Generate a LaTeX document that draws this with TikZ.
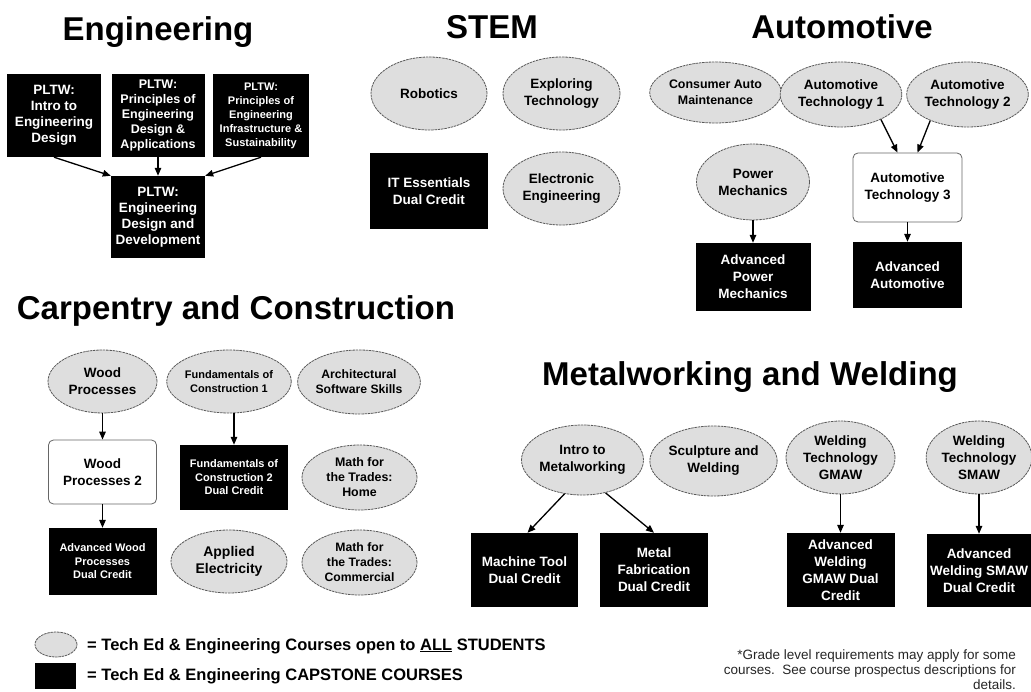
\documentclass[tikz,border=0pt]{standalone}
\usepackage{fontspec}
\setmainfont{Liberation Sans}
\usetikzlibrary{shapes.geometric,arrows.meta}

\begin{document}
\begin{tikzpicture}[x=1pt,y=-1pt,>={Triangle[length=8pt,width=6.5pt]},
  every node/.style={align=center,inner sep=0pt,font=\fontsize{13.5}{17}\selectfont\bfseries},
  title/.style={anchor=base,font=\fontsize{33}{38}\selectfont\bfseries},
  course/.style={ellipse,draw=black!65,line width=0.8pt,dash pattern=on 2.5pt off 0.8pt,fill=black!13},
  capstone/.style={rectangle,fill=black,text=white},
  interim/.style={rectangle,rounded corners=5pt,draw=black!60,line width=0.8pt,fill=white},
  conn/.style={->,line width=1.3pt}]
\path[use as bounding box,fill=white] (0,0) rectangle (1031,692);

\node[title] (engT) at (158,41) {Engineering};
\node[capstone,minimum width=94,minimum height=83,font=\fontsize{13.5}{16}\selectfont\bfseries] (pltwIntro) at (54,115.5) {PLTW:\\Intro to\\Engineering\\Design};
\node[capstone,minimum width=93,minimum height=83,font=\fontsize{12.5}{15}\selectfont\bfseries] (pltwPED) at (158,115.5) {PLTW:\\Principles of\\Engineering\\Design \&\\Applications};
\node[capstone,minimum width=96,minimum height=83,font=\fontsize{11}{14}\selectfont\bfseries] (pltwPEI) at (261,115.5) {PLTW:\\Principles of\\Engineering\\Infrastructure \&\\Sustainability};
\node[capstone,minimum width=94,minimum height=82,font=\fontsize{13.5}{16}\selectfont\bfseries] (pltwEDD) at (158,217) {PLTW:\\Engineering\\Design and\\Development};
\draw[conn] (pltwIntro.south) -- (pltwEDD.north west);
\draw[conn] (pltwPED.south) -- (pltwEDD.north);
\draw[conn] (pltwPEI.south) -- (pltwEDD.north east);

\node[title] (stemT) at (492,39) {STEM};
\node[course,minimum width=116,minimum height=73] (robotics) at (429,93.5) {Robotics};
\node[course,minimum width=117,minimum height=73] (exploring) at (561.5,93.5) {Exploring\\Technology};
\node[capstone,minimum width=118,minimum height=76] (itEss) at (429,191) {IT Essentials\\Dual Credit};
\node[course,minimum width=117,minimum height=73] (electronic) at (561.5,188.5) {Electronic\\Engineering};

\node[title] (autoT) at (842,39) {Automotive};
\node[course,minimum width=115,minimum height=61,font=\fontsize{12.4}{16}\selectfont\bfseries] (consumer) at (715.5,92.5) {Consumer Auto\\Maintenance};
\node[course,minimum width=108,minimum height=65] (autoOne) at (841,94.5) {Automotive\\Technology 1};
\node[course,minimum width=109,minimum height=65] (autoTwo) at (967.5,94.5) {Automotive\\Technology 2};
\node[interim,minimum width=109,minimum height=69] (autoThree) at (907.5,187.5) {Automotive\\Technology 3};
\node[course,minimum width=113,minimum height=76] (power) at (753,182) {Power\\Mechanics};
\node[capstone,minimum width=115,minimum height=68] (advPower) at (753,277) {Advanced\\Power\\Mechanics};
\node[capstone,minimum width=109,minimum height=66] (advAuto) at (907.5,275) {Advanced\\Automotive};
\draw[conn] (autoOne.-32) -- ([xshift=-10pt]autoThree.north);
\draw[conn] (autoTwo.-145) -- ([xshift=10pt]autoThree.north);
\draw[conn] (power.south) -- (advPower.north);
\draw[conn] (autoThree.south) -- (advAuto.north);

\node[title] (carpT) at (236,320) {Carpentry and Construction};
\node[course,minimum width=109,minimum height=63] (wood) at (102.5,381.5) {Wood\\Processes};
\node[course,minimum width=116,minimum height=63,font=\fontsize{11}{14}\selectfont\bfseries] (fundOne) at (229,381.5) {Fundamentals of\\Construction 1};
\node[course,minimum width=116,minimum height=64,font=\fontsize{12.2}{15}\selectfont\bfseries] (archSoft) at (359,382) {Architectural\\Software Skills};
\node[interim,minimum width=108,minimum height=64] (woodTwo) at (102.5,472) {Wood\\Processes 2};
\node[capstone,minimum width=108,minimum height=65,font=\fontsize{11}{13.5}\selectfont\bfseries] (fundTwo) at (234,477.5) {Fundamentals of\\Construction 2\\Dual Credit};
\node[course,minimum width=115,minimum height=65,font=\fontsize{12.4}{15}\selectfont\bfseries] (mathHome) at (359.5,477.5) {Math for\\the Trades:\\Home};
\node[capstone,minimum width=108,minimum height=67,font=\fontsize{11}{13.5}\selectfont\bfseries] (advWood) at (102.5,561.5) {Advanced Wood\\Processes\\Dual Credit};
\node[course,minimum width=116,minimum height=63,font=\fontsize{14}{17}\selectfont\bfseries] (appElec) at (229,561.5) {Applied\\Electricity};
\node[course,minimum width=115,minimum height=65,font=\fontsize{12.2}{15}\selectfont\bfseries] (mathComm) at (359.5,562.5) {Math for\\the Trades:\\Commercial};
\draw[conn] (wood.south) -- (woodTwo.north);
\draw[conn] (woodTwo.south) -- (advWood.north);
\draw[conn] (fundTwo.north |- fundOne.south) -- (fundTwo.north);

\node[title] (metalT) at (750,386) {Metalworking and Welding};
\node[course,minimum width=109,minimum height=70] (introMetal) at (582.5,460) {Intro to\\Metalworking};
\node[course,minimum width=109,minimum height=70] (sculpture) at (713.5,461) {Sculpture and\\Welding};
\node[course,minimum width=109,minimum height=73] (gmaw) at (840.5,457.5) {Welding\\Technology\\GMAW};
\node[course,minimum width=105,minimum height=73] (smaw) at (979,457.5) {Welding\\Technology\\SMAW};
\node[capstone,minimum width=107,minimum height=74] (machine) at (524.5,570) {Machine Tool\\Dual Credit};
\node[capstone,minimum width=108,minimum height=74] (fabric) at (654,570) {Metal\\Fabrication\\Dual Credit};
\node[capstone,minimum width=108,minimum height=74] (advGmaw) at (840.5,570) {Advanced\\Welding\\GMAW Dual\\Credit};
\node[capstone,minimum width=105,minimum height=73] (advSmaw) at (979,570.5) {Advanced\\Welding SMAW\\Dual Credit};
\draw[conn] (introMetal.-118) -- ([xshift=3pt]machine.north);
\draw[conn] (introMetal.-55) -- (fabric.north);
\draw[conn] (gmaw.south) -- (advGmaw.north);
\draw[conn] (smaw.south) -- (advSmaw.north);

\node[course,minimum width=42,minimum height=25] (keyOpen) at (56,644.5) {};
\node[capstone,minimum width=41,minimum height=26] (keyCap) at (55.5,676) {};
\node[anchor=west,font=\fontsize{16.5}{19}\selectfont\bfseries] (keyOpenTxt) at (87,646) {= Tech Ed \& Engineering Courses open to \underline{ALL} STUDENTS};
\node[anchor=west,font=\fontsize{16.5}{19}\selectfont\bfseries] (keyCapTxt) at (87,676) {= Tech Ed \& Engineering CAPSTONE COURSES};
\node[anchor=north east,align=right,text=black!85,font=\fontsize{13.5}{15}\selectfont] (note) at (1016,650) {*Grade level requirements may apply for some\\courses.\ \ See course prospectus descriptions for\\details.};
\end{tikzpicture}
\end{document}
